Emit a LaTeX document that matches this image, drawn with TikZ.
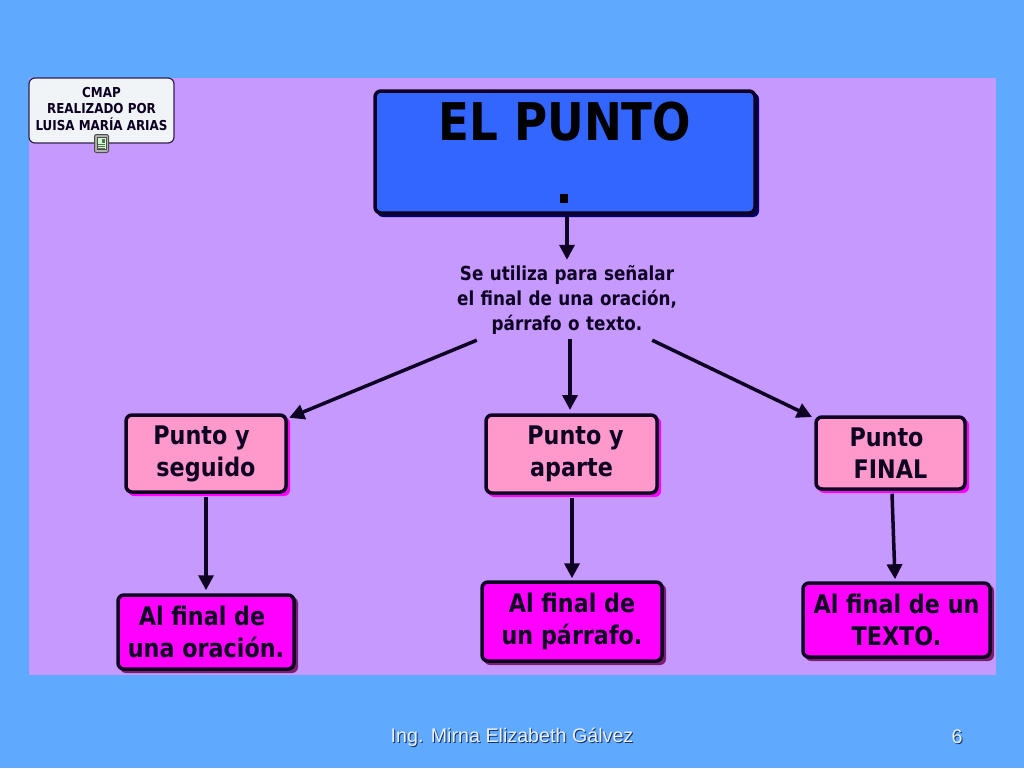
\documentclass[tikz,border=0pt]{standalone}
\usepackage{fontspec}
\setmainfont[FakeStretch=0.87]{DejaVu Sans}
\newfontfamily\footfont{Liberation Sans}
\usetikzlibrary{calc,arrows.meta}
\definecolor{bgblue}{HTML}{5FA9FF}
\definecolor{panel}{HTML}{C699FF}
\definecolor{ink}{HTML}{0E0022}
\definecolor{titlefill}{HTML}{3366FF}
\definecolor{titleshadow}{HTML}{000066}
\definecolor{notefill}{HTML}{F0F4F6}
\definecolor{pinkfill}{HTML}{FF99CC}
\definecolor{magfill}{HTML}{FF00FF}
\definecolor{magshadow}{HTML}{7A1F70}
\definecolor{footink}{HTML}{1A2F60}
\definecolor{footlight}{HTML}{E8F0FA}
\tikzset{
  x=1pt,y=-1pt,
  conceptbox/.style={draw=ink,line width=3.5pt,rounded corners=6pt,inner sep=0pt,align=center},
  arr/.style={draw=ink,line width=3.5pt,-{Triangle[length=15pt,width=15pt]}},
  lab/.style={align=center,text=ink,inner sep=0pt},
  foottext/.style={font=\footfont\fontsize{19.7}{22}\selectfont,inner sep=0pt}
}
% \cbox{name}{x0}{y0}{x1}{y1}{fill}{shadow}{fontsize}{text}
\newcommand{\cbox}[9]{%
  \fill[#7,rounded corners=6pt] (#2+3,#3+3) rectangle (#4+3,#5+3);
  \node[conceptbox,fill=#6,text=ink,minimum width=#4pt-#2pt-2pt,minimum height=#5pt-#3pt-2pt,
        font=\bfseries\fontsize{#8}{32}\selectfont] (#1) at ({(#2+#4)/2},{(#3+#5)/2}) {#9};%
}
\newcommand{\shiftgap}[1]{\rule{#1}{0pt}}
\begin{document}
\begin{tikzpicture}
\useasboundingbox (0,0) rectangle (1024,768);
\fill[bgblue] (0,0) rectangle (1024,768);
\fill[panel] (29,78) rectangle (996,675);
% cmap note
\node[draw=ink!80!panel,line width=1.2pt,fill=notefill,rounded corners=6pt,inner sep=0pt,
      minimum width=145pt,minimum height=65pt,align=center,text=ink,
      font=\bfseries\fontsize{13.7}{15.5}\selectfont] (cmap) at (101.5,110.5)
      {\raisebox{3pt}{CMAP}\\\raisebox{3pt}{REALIZADO POR}\\\raisebox{3pt}{LUISA MARÍA ARIAS}};
% little resource icon
\node[draw=gray!60!black,fill=gray!60!white,line width=1pt,rounded corners=2pt,minimum width=14pt,minimum height=18pt,inner sep=0pt] (icon) at (101.5,143.5) {};
\fill[white!80!green,draw=black!70,line width=.6pt] (97,137.5) rectangle (106,149.5);
\foreach \yy in {144,146,148} \draw[black!60,line width=.7pt] (98,\yy) -- (105,\yy);
\fill[black!60] (101.5,139) rectangle (105,142.5);
% title
\cbox{title}{374}{90}{756}{214}{titlefill}{titleshadow}{52}{}
\node[lab,text=black,font=\bfseries\fontsize{52}{60}\selectfont] (t1) at (565,122) {EL PUNTO};
\node[fill=black,minimum width=8pt,minimum height=9pt,inner sep=0pt] (dot) at (564,198) {};
% use text
\node[lab,text width=220pt,font=\bfseries\fontsize{19.3}{25}\selectfont,minimum height=72pt] (use) at (567,300)
  {Se utiliza para señalar\\el final de una oración,\\párrafo o texto.};
% level 2
\cbox{b1}{125}{414}{287}{493}{pinkfill}{magfill}{25.6}{Punto y\shiftgap{9pt}\\seguido}
\cbox{b2}{485}{414}{658}{494}{pinkfill}{magfill}{25.6}{\shiftgap{8pt}Punto y\\aparte}
\cbox{b3}{815}{416}{966}{490}{pinkfill}{magfill}{25.6}{Punto\shiftgap{8pt}\\FINAL}
% level 3
\cbox{c1}{117}{594}{295}{670}{magfill}{magshadow}{25.6}{Al final de\shiftgap{8pt}\\una oración.}
\cbox{c2}{481}{581}{663}{662}{magfill}{magshadow}{25.6}{Al final de\\un párrafo.}
\cbox{c3}{802}{582}{991}{658}{magfill}{magshadow}{25.6}{Al final de un\\TEXTO.}
% connectors
\draw[arr] ($(title.south)+(2,2)$) -- ($(use.north)+(0,-4)$);
\draw[arr] ($(use.south west)+(20,4)$) -- ($(b1.north east)+(1.5,4.5)$);
\draw[arr] ($(use.south)+(3,3)$) -- ($(b2.north)+(-1.5,-3.25)$);
\draw[arr] ($(use.south east)+(-25,4)$) -- ($(b3.north west)+(-2.25,1.75)$);
\draw[arr] ($(b1.south)+(0,3)$) -- ($(c1.north)+(0,-3)$);
\draw[arr] ($(b2.south)+(0.5,3)$) -- ($(c2.north)+(0,-2)$);
\draw[arr] ($(b3.south)+(1.5,3)$) -- ($(c3.north)+(-1.5,-2)$);
% footer
\node[foottext,text=footink] at (513,738) {Ing. Mirna Elizabeth Gálvez};
\node[foottext,text=footink] at (958,738) {6};
\node[foottext,text=footlight] (foot) at (512,737) {Ing. Mirna Elizabeth Gálvez};
\node[foottext,text=footlight] (pg) at (957,737) {6};
\end{tikzpicture}
\end{document}
